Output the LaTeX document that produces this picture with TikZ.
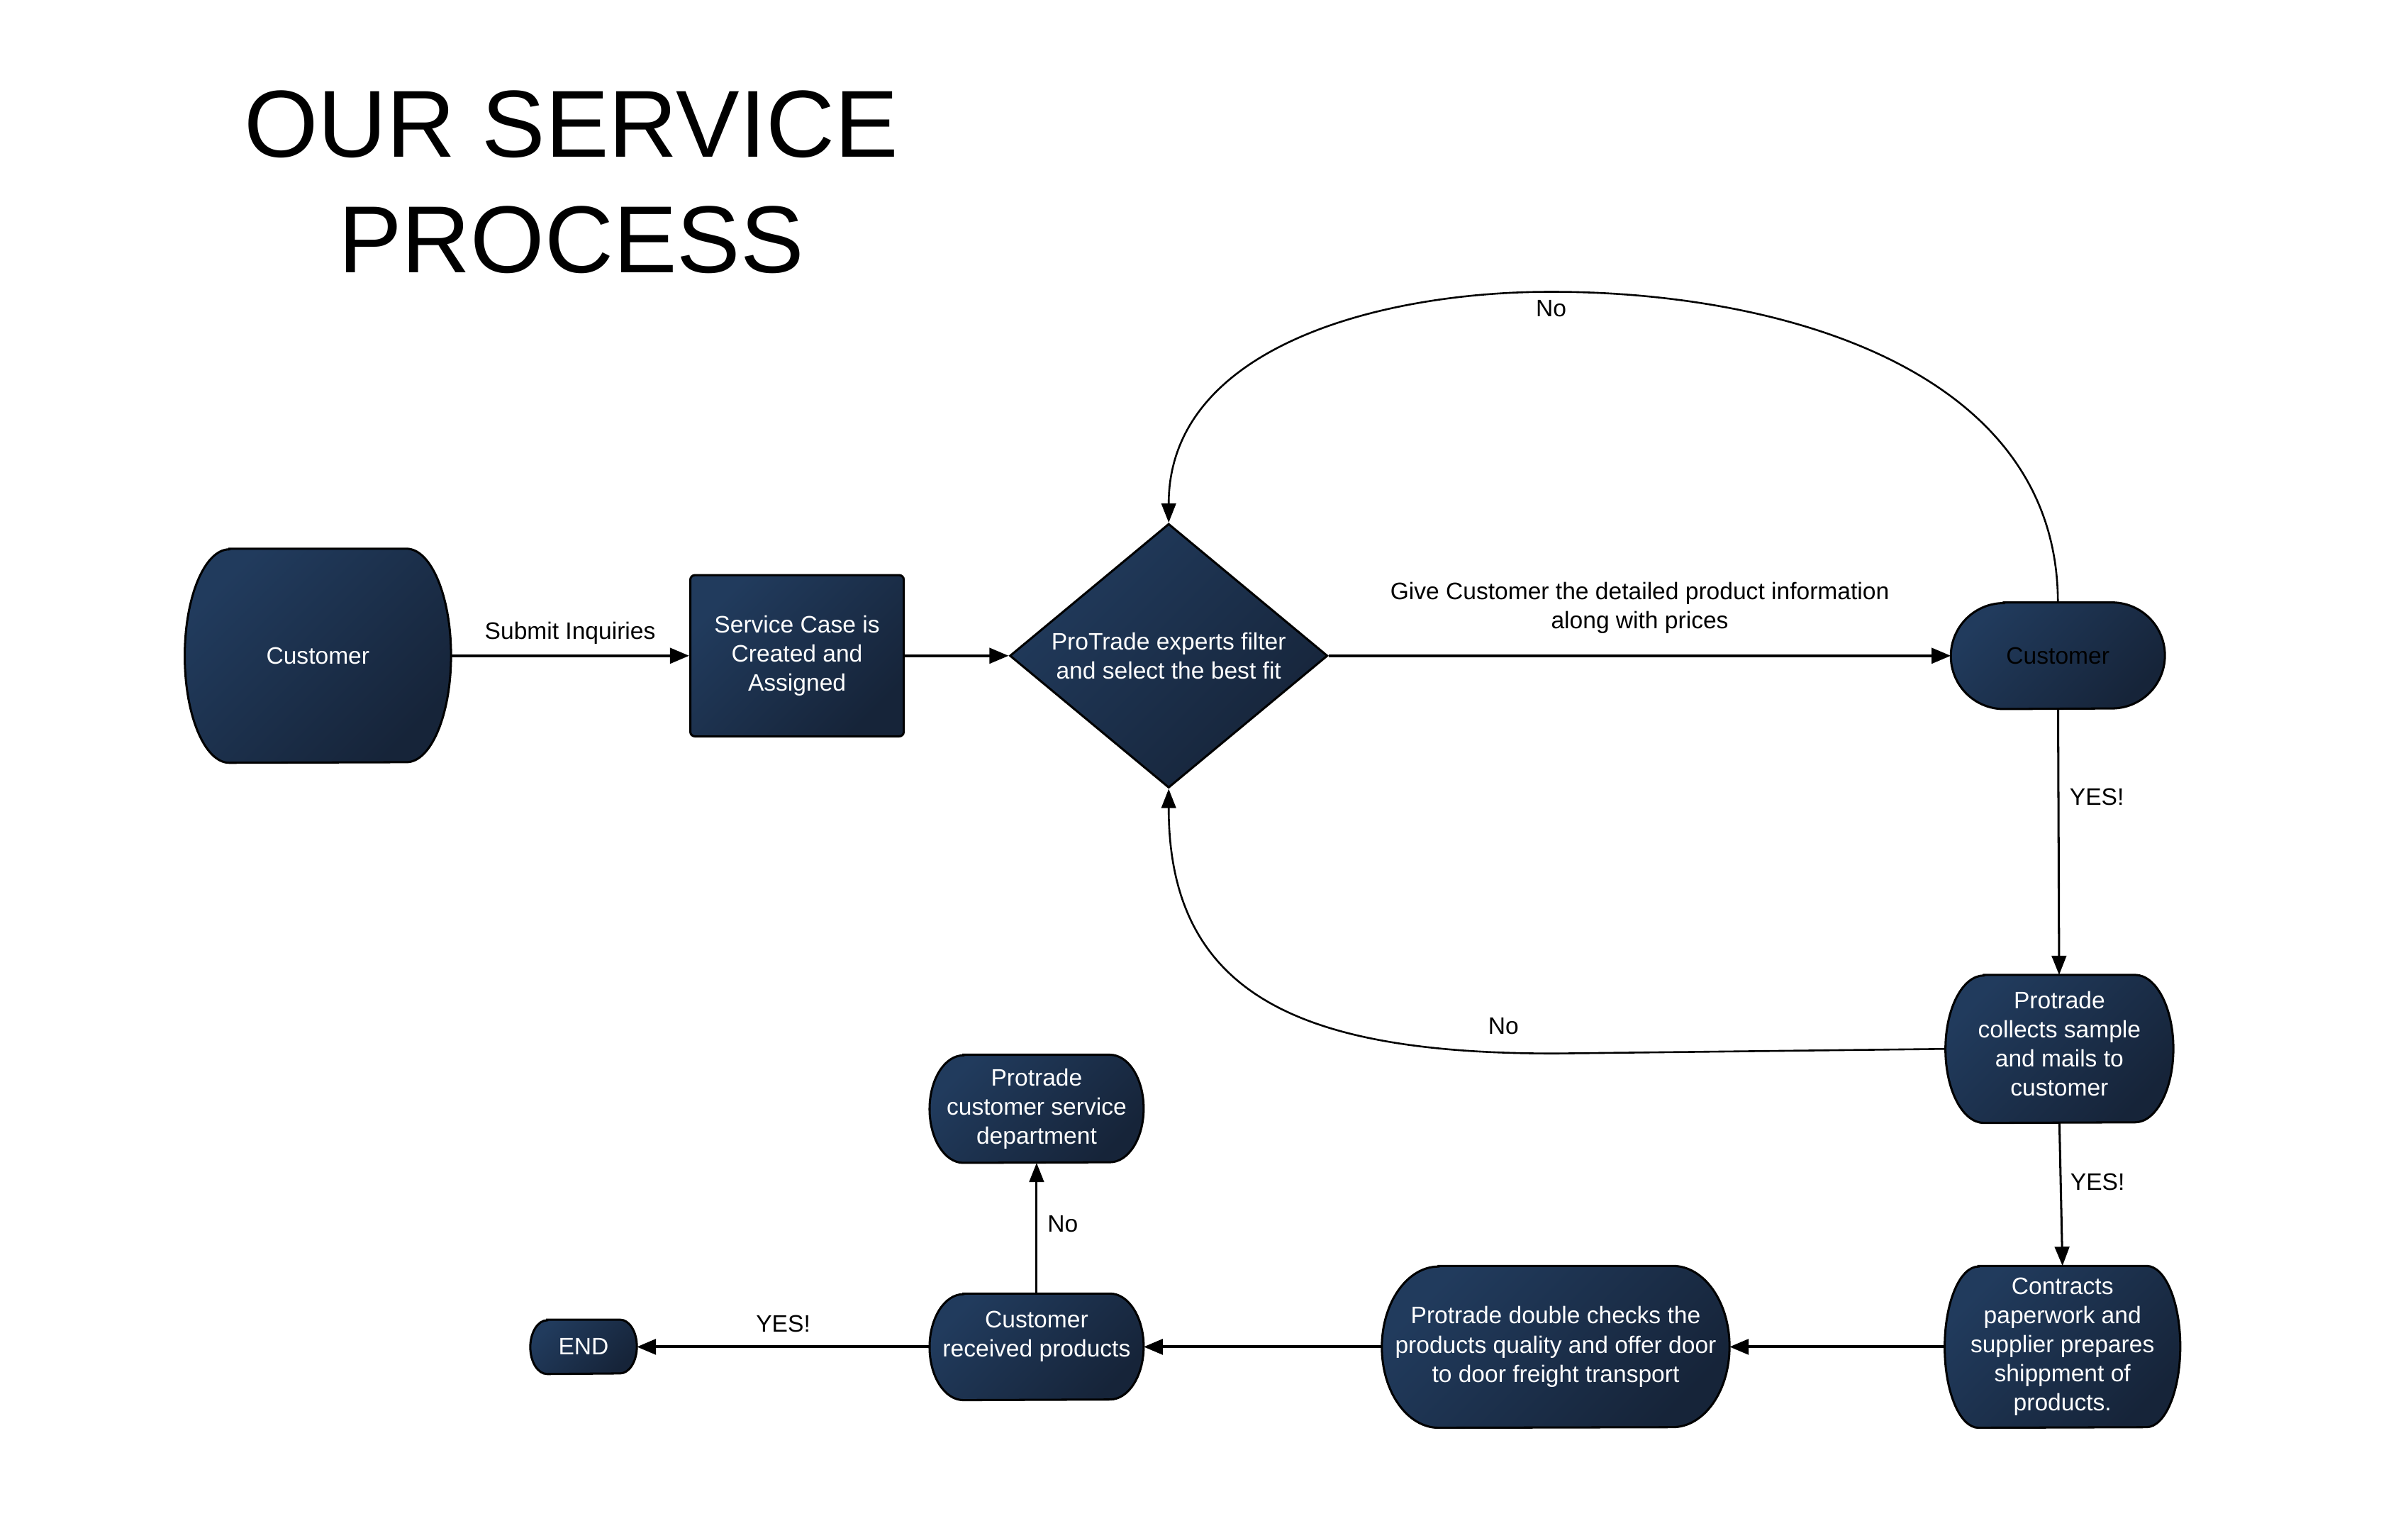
\documentclass[tikz,border=0pt]{standalone}
\usepackage{fontspec}
\setmainfont{Liberation Sans}
\usetikzlibrary{arrows.meta,shapes.geometric,calc,backgrounds,positioning}
\definecolor{boxTop}{RGB}{33,59,93}
\definecolor{boxBot}{RGB}{22,36,57}
\tikzset{boxfill/.style={draw=black, line width=1.4pt, top color=boxTop, bottom color=boxBot, shading angle=45},
  box/.style={boxfill, text=white, align=center, inner sep=2pt, font=\fontsize{15.5}{19}\selectfont},
  term/.style={rectangle, text=white, align=center, inner sep=0pt, font=\fontsize{15.5}{19}\selectfont},
  lbl/.style={font=\fontsize{15.5}{19}\selectfont, align=center, inner sep=1pt},
  title/.style={font=\fontsize{62}{75}\selectfont, align=center, inner sep=0pt},
  flow/.style={line width=1.8pt, -{Triangle[length=12.5pt,width=10pt]}},
  yesflow/.style={line width=1.4pt, -{Triangle[length=12.5pt,width=9.5pt]}},
  backflow/.style={line width=1.2pt, -{Triangle[length=12.5pt,width=9.5pt]}}}

\begin{document}
\begin{tikzpicture}[x=1pt, y=-1pt]
    \useasboundingbox (0,0) rectangle (1568,987);
    \node[title] (heading) at (372,118.5) {OUR SERVICE\\PROCESS};
    \node[term, minimum width=173pt, minimum height=139pt] (cust1) at (207,427) {Customer};
    \node[box, rectangle, rounded corners=3pt, minimum width=139pt, minimum height=105pt] (case) at (519,427) {Service Case is\\Created and\\Assigned};
    \node[box, diamond, aspect=1.2, inner sep=0pt, minimum width=207pt, minimum height=172pt] (filter) at (761,427) {ProTrade experts filter\\and select the best fit};
    \node[term, text=black, minimum width=139pt, minimum height=69pt] (cust2) at (1340,427) {Customer};
    \node[term, text depth=7pt, minimum width=148pt, minimum height=96pt] (sample) at (1341,683) {Protrade\\collects sample\\and mails to\\customer};
    \node[term, minimum width=153pt, minimum height=105pt] (contract) at (1343,877) {Contracts\\paperwork and\\supplier prepares\\shippment of\\products.};
    \node[term, minimum width=226pt, minimum height=105pt] (check) at (1013,877) {Protrade double checks the\\products quality and offer door\\to door freight transport};
    \node[term, text depth=17pt, minimum width=139pt, minimum height=69pt] (recv) at (675,877) {Customer\\received products};
    \node[term, minimum width=139pt, minimum height=70pt] (dept) at (675,722) {Protrade\\customer service\\department};
    \node[term, minimum width=69pt, minimum height=35pt] (stop) at (380,877) {END};
    % terminal outlines behind the texts
    \begin{scope}[on background layer]
        \fill[white] (0,0) rectangle (1568,987);
        \foreach \n/\b/\r in {cust1/29/69.5, cust2/34.5/34.5, sample/25/48, contract/22/52.5, check/37/52.5, recv/22/34.5, dept/22/35, stop/11/17.5}
            \path[boxfill] ($(\n.north west)+(\b,0)$) -- ($(\n.north east)+(-\b,0)$) arc[start angle=90, end angle=-90, x radius=\b pt, y radius=\r pt] -- ($(\n.south west)+(\b,0)$) arc[start angle=270, end angle=90, x radius=\b pt, y radius=\r pt] -- cycle;
    \end{scope}
    \draw[flow] (cust1) -- node[lbl, yshift=15pt] {Submit Inquiries} (case);
    \draw[flow] (case) -- (filter);
    \draw[flow] (filter) -- node[lbl, yshift=31pt] {Give Customer the detailed product information\\along with prices} (cust2);
    \draw[backflow] (cust2.north) to[out=90,in=0] (1010,190) node[lbl, below=4pt] {No} to[out=180,in=90] (filter.north);
    \draw[yesflow] (cust2) -- node[lbl, pos=.33, xshift=25pt] {YES!} (sample);
    \draw[backflow] (sample.west) -- (1013,686) node[lbl, xshift=-34pt, yshift=18pt] {No} .. controls (850,686) and (761,650) .. (filter.south);
    \draw[yesflow] (sample.south) -- node[lbl, pos=.415, xshift=24pt] {YES!} (contract.north);
    \draw[flow] (contract) -- (check);
    \draw[flow] (check) -- (recv);
    \draw[flow] (recv) -- node[lbl, yshift=15pt] {YES!} (stop);
    \draw[yesflow] (recv) -- node[lbl, pos=.535, xshift=17pt] {No} (dept);
\end{tikzpicture}
\end{document}
